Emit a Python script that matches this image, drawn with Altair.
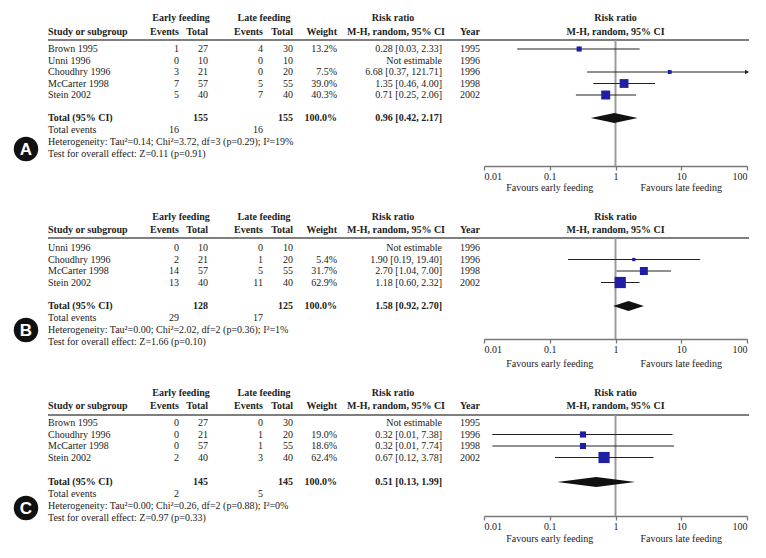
import altair as alt
import pandas as pd

FONT = "Liberation Serif"
FS = 10
BLUE = "#1f1fa6"
TXT = "#222222"

# ---------------- data ----------------
A_study = ["Brown 1995", "Unni 1996", "Choudhry 1996", "McCarter 1998", "Stein 2002"]
A_year = [1995, 1996, 1996, 1998, 2002]
A_early_events = [1, 0, 3, 7, 5]
A_early_total = [27, 10, 21, 57, 40]
A_late_events = [4, 0, 0, 5, 7]
A_late_total = [30, 10, 20, 55, 40]
A_weight = [13.2, None, 7.5, 39.0, 40.3]
A_rr = [0.28, None, 6.68, 1.35, 0.71]
A_lo = [0.032, None, 0.37, 0.46, 0.25]
A_hi = [2.33, None, 121.71, 4.00, 2.06]
A_tot = [155, 155, 100.0, 0.96, 0.42, 2.17, 16, 16]
A_het = "Heterogeneity: Tau²=0.14; Chi²=3.72, df=3 (p=0.29); I²=19%"
A_test = "Test for overall effect: Z=0.11 (p=0.91)"

B_study = ["Unni 1996", "Choudhry 1996", "McCarter 1998", "Stein 2002"]
B_year = [1996, 1996, 1998, 2002]
B_early_events = [0, 2, 14, 13]
B_early_total = [10, 21, 57, 40]
B_late_events = [0, 1, 5, 11]
B_late_total = [10, 20, 55, 40]
B_weight = [None, 5.4, 31.7, 62.9]
B_rr = [None, 1.90, 2.70, 1.18]
B_lo = [None, 0.19, 1.04, 0.60]
B_hi = [None, 19.40, 7.00, 2.32]
B_tot = [128, 125, 100.0, 1.58, 0.92, 2.70, 29, 17]
B_het = "Heterogeneity: Tau²=0.00; Chi²=2.02, df=2 (p=0.36); I²=1%"
B_test = "Test for overall effect: Z=1.66 (p=0.10)"

C_study = ["Brown 1995", "Choudhry 1996", "McCarter 1998", "Stein 2002"]
C_year = [1995, 1996, 1998, 2002]
C_early_events = [0, 0, 0, 2]
C_early_total = [27, 21, 57, 40]
C_late_events = [0, 1, 1, 3]
C_late_total = [30, 20, 55, 40]
C_weight = [None, 19.0, 18.6, 62.4]
C_rr = [None, 0.32, 0.32, 0.67]
C_lo = [None, 0.0134, 0.0134, 0.12]
C_hi = [None, 7.38, 7.74, 3.78]
C_tot = [145, 145, 100.0, 0.51, 0.13, 1.99, 2, 5]
C_het = "Heterogeneity: Tau²=0.00; Chi²=0.26, df=2 (p=0.88); I²=0%"
C_test = "Test for overall effect: Z=0.97 (p=0.33)"

TICKS = [0.01, 0.1, 1, 10, 100]
FAVOURS = [(0.1, "Favours early feeding"), (10, "Favours late feeding")]

# ---------------- layout ----------------
W = 750
STEP = 11.5
COL = dict(study=40, ee=171, et=200, le=255, lt=285, w=329, rr=434, rrh=437,
           rrc=385, early=173, late=256, year=452, badge=18, line_end=741)
LAYOUT = {
    "A": dict(h=190, hdr1=10, hdr2=24, line=32, row0=41, total=110, axis=158, fav=180, badge=141),
    "B": dict(h=176, hdr1=19, hdr2=32, line=40, row0=50, total=108, axis=141, fav=166, badge=132),
    "C": dict(h=176, hdr1=19, hdr2=32, line=41, row0=49, total=108, axis=142, fav=165, badge=134),
}


def ci(r, l, h):
    return f"{r:.2f} [{l:.2f}, {h:.2f}]"


def panel(letter, study, year, ee, et, le, lt, wt, rr, lo, hi, tot, het, test):
    L = LAYOUT[letter]
    h = L["h"]
    ys = [L["row0"] + STEP * i for i in range(len(study))]
    tt = L["total"]
    cells = []

    def add(x, y, t, align, bold=False):
        cells.append(dict(x=x, y=y, t=str(t), align=align, bold=bold))

    add(COL["early"], L["hdr1"], "Early feeding", "center", True)
    add(COL["late"], L["hdr1"], "Late feeding", "center", True)
    add(COL["rrc"], L["hdr1"], "Risk ratio", "center", True)
    add(COL["study"], L["hdr2"], "Study or subgroup", "left", True)
    add(COL["ee"], L["hdr2"], "Events", "right", True)
    add(COL["et"], L["hdr2"], "Total", "right", True)
    add(COL["le"], L["hdr2"], "Events", "right", True)
    add(COL["lt"], L["hdr2"], "Total", "right", True)
    add(COL["w"], L["hdr2"], "Weight", "right", True)
    add(COL["rrh"], L["hdr2"], "M-H, random, 95% CI", "right", True)
    add(COL["year"], L["hdr2"], "Year", "left", True)
    for i, y in enumerate(ys):
        add(COL["study"], y, study[i], "left")
        add(COL["ee"], y, ee[i], "right")
        add(COL["et"], y, et[i], "right")
        add(COL["le"], y, le[i], "right")
        add(COL["lt"], y, lt[i], "right")
        if wt[i] is not None:
            add(COL["w"], y, f"{wt[i]:.1f}%", "right")
            add(COL["rr"], y, ci(rr[i], lo[i], hi[i]), "right")
        else:
            add(COL["rr"], y, "Not estimable", "right")
        add(COL["year"], y, year[i], "left")
    add(COL["study"], tt, "Total (95% CI)", "left", True)
    add(COL["et"], tt, tot[0], "right", True)
    add(COL["lt"], tt, tot[1], "right", True)
    add(COL["w"], tt, f"{tot[2]:.1f}%", "right", True)
    add(COL["rr"], tt, ci(tot[3], tot[4], tot[5]), "right", True)
    add(COL["study"], tt + 11.5, "Total events", "left")
    add(COL["ee"], tt + 11.5, tot[6], "right")
    add(COL["le"], tt + 11.5, tot[7], "right")
    add(COL["study"], tt + 24, het, "left")
    add(COL["study"], tt + 36, test, "left")
    df = pd.DataFrame(cells)

    xs = alt.Scale(domain=[0, W], nice=False, zero=False)
    ysc = alt.Scale(domain=[h, 0], nice=False, zero=False)
    fx = alt.Scale(type="log", domain=[0.01, 100], range=[476, 739], nice=False)

    layers = []
    for (align, bold), g in df.groupby(["align", "bold"]):
        layers.append(
            alt.Chart(g).mark_text(align=align, baseline="middle", font=FONT, fontSize=FS,
                                   fontWeight="bold" if bold else "normal", color=TXT)
            .encode(x=alt.X("x:Q", scale=xs, axis=None),
                    y=alt.Y("y:Q", scale=ysc, axis=None),
                    text="t:N")
        )

    # header line
    hl = pd.DataFrame([dict(x=COL["study"], x2=COL["line_end"], y=L["line"])])
    layers.append(
        alt.Chart(hl).mark_rule(color="#555555", strokeWidth=1.3)
        .encode(x=alt.X("x:Q", scale=xs, axis=None), x2="x2:Q",
                y=alt.Y("y:Q", scale=ysc, axis=None))
    )

    # badge
    bd = pd.DataFrame([dict(x=COL["badge"], y=L["badge"], t=letter)])
    layers.append(
        alt.Chart(bd).mark_circle(size=600, color="#111111", opacity=1)
        .encode(x=alt.X("x:Q", scale=xs, axis=None), y=alt.Y("y:Q", scale=ysc, axis=None))
    )
    layers.append(
        alt.Chart(bd).mark_text(font="Liberation Sans", fontSize=17, fontWeight="bold",
                                color="white", baseline="middle", align="center", dy=1)
        .encode(x=alt.X("x:Q", scale=xs, axis=None), y=alt.Y("y:Q", scale=ysc, axis=None),
                text="t:N")
    )

    # reference line at 1 with the axis
    ref = pd.DataFrame([dict(x=1, y=L["line"], y2=L["axis"])])
    layers.append(
        alt.Chart(ref).mark_rule(color="#9a9a9a", strokeWidth=2)
        .encode(
            x=alt.X("x:Q", scale=fx,
                    axis=alt.Axis(values=TICKS, format="~g", offset=L["axis"] - h,
                                  domainColor="#777777", tickColor="#777777", domainWidth=1.3,
                                  tickWidth=1.3, tickSize=4, labelPadding=1, labelFont=FONT,
                                  labelFontSize=FS, labelColor=TXT, grid=False, title=None,
                                  labelFlush=True)),
            y=alt.Y("y:Q", scale=ysc, axis=None), y2="y2:Q")
    )

    # study estimates
    fr = []
    for i, y in enumerate(ys):
        if rr[i] is not None:
            fr.append(dict(rr=rr[i], lo=lo[i], hi=min(hi[i], 100), over=hi[i] > 100,
                           w=wt[i], y=y))
    fd = pd.DataFrame(fr)
    layers.append(
        alt.Chart(fd).mark_rule(color="#222222", strokeWidth=1)
        .encode(x=alt.X("lo:Q", scale=fx, axis=None), x2="hi:Q",
                y=alt.Y("y:Q", scale=ysc, axis=None))
    )
    arrows = fd[fd["over"]]
    if len(arrows):
        layers.append(
            alt.Chart(arrows).mark_point(shape="triangle-right", filled=True, size=22,
                                         color="#222222", opacity=1)
            .encode(x=alt.X("hi:Q", scale=fx, axis=None), y=alt.Y("y:Q", scale=ysc, axis=None))
        )
    layers.append(
        alt.Chart(fd).mark_square(color=BLUE, opacity=1)
        .encode(x=alt.X("rr:Q", scale=fx, axis=None), y=alt.Y("y:Q", scale=ysc, axis=None),
                size=alt.Size("w:Q", scale=alt.Scale(domain=[0, 100], range=[0, 200]),
                              legend=None))
    )

    # pooled diamond
    dm = pd.DataFrame([
        dict(x=tot[4], y=tt, y2=tt),
        dict(x=tot[3], y=tt - 5, y2=tt + 5),
        dict(x=tot[5], y=tt, y2=tt),
    ])
    layers.append(
        alt.Chart(dm).mark_area(color="#111111", orient="vertical", opacity=1)
        .encode(x=alt.X("x:Q", scale=fx, axis=None), y=alt.Y("y:Q", scale=ysc, axis=None),
                y2="y2:Q")
    )

    # forest headers and favours labels
    fh = pd.DataFrame([
        dict(x=1, y=L["hdr1"], t="Risk ratio"),
        dict(x=1, y=L["hdr2"], t="M-H, random, 95% CI"),
    ])
    layers.append(
        alt.Chart(fh).mark_text(align="center", baseline="middle", font=FONT, fontSize=FS,
                                fontWeight="bold", color=TXT)
        .encode(x=alt.X("x:Q", scale=fx, axis=None), y=alt.Y("y:Q", scale=ysc, axis=None),
                text="t:N")
    )
    fv = pd.DataFrame([dict(x=v, y=L["fav"], t=t) for v, t in FAVOURS])
    layers.append(
        alt.Chart(fv).mark_text(align="center", baseline="middle", font=FONT, fontSize=FS,
                                color=TXT)
        .encode(x=alt.X("x:Q", scale=fx, axis=None), y=alt.Y("y:Q", scale=ysc, axis=None),
                text="t:N")
    )

    return alt.layer(*layers).resolve_scale(x="independent").properties(width=W, height=h)


pA = panel("A", A_study, A_year, A_early_events, A_early_total, A_late_events, A_late_total,
           A_weight, A_rr, A_lo, A_hi, A_tot, A_het, A_test)
pB = panel("B", B_study, B_year, B_early_events, B_early_total, B_late_events, B_late_total,
           B_weight, B_rr, B_lo, B_hi, B_tot, B_het, B_test)
pC = panel("C", C_study, C_year, C_early_events, C_early_total, C_late_events, C_late_total,
           C_weight, C_rr, C_lo, C_hi, C_tot, C_het, C_test)

chart = (
    alt.vconcat(pA, pB, pC, spacing=0)
    .properties(padding=0, background="white")
    .configure_view(stroke=None)
)

chart.save("out.html", embed_options={"renderer": "svg", "actions": False})
